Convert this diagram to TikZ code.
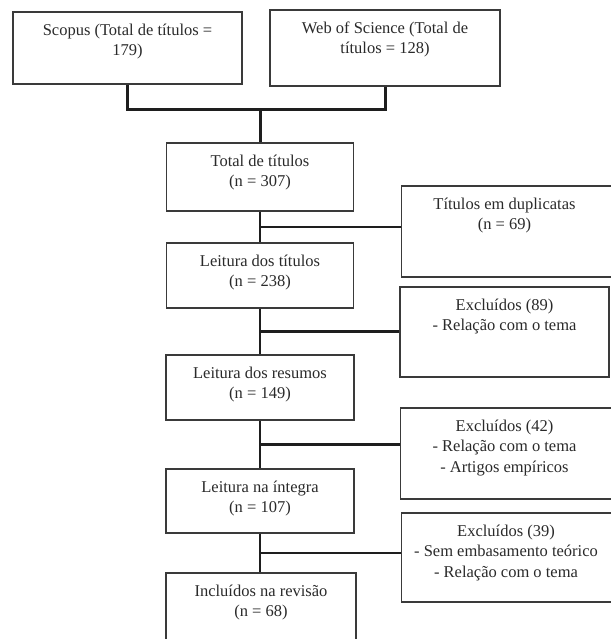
\documentclass[tikz,border=0pt]{standalone}
\usepackage{fontspec}
\setmainfont{Liberation Serif}
\usepackage{xcolor}
\usetikzlibrary{calc,positioning}
\definecolor{BoxLine}{HTML}{3A3A3A}
\definecolor{FlowLine}{HTML}{1E1E1E}
\definecolor{BoxText}{HTML}{2A2A2A}
\tikzset{
  prbox/.style 2 args={draw=BoxLine, line width=1.2pt, fill=white, minimum width=#1, minimum height=#2, inner sep=0pt},
  prtext/.style={anchor=north, align=center, inner sep=0pt, yshift=-12pt, text=BoxText, font=\fontsize{16.5}{20.5}\selectfont},
  prline/.style={draw=FlowLine, line width=2.3pt},
  prjoin/.style={draw=FlowLine, line width=3pt}
}

\begin{document}
\begin{tikzpicture}[x=1pt, y=-1pt]
  \useasboundingbox[fill=white] (0,0) rectangle (610,639);
  \node[prbox={229pt}{72pt}] (scopus) at (127.5,48) {};
  \node[prbox={230pt}{76pt}] (wos) at (385,48) {};
  \node[prbox={187pt}{68pt}] (total) at (260,177) {};
  \node[prbox={260pt}{91pt}, anchor=west] (dup) at (401,231.5) {};
  \node[prbox={187pt}{65pt}] (titulos) at (260,275.5) {};
  \node[prbox={209pt}{90pt}] (excl89) at (504.5,332) {};
  \node[prbox={188pt}{65pt}] (resumos) at (260,387.5) {};
  \node[prbox={260pt}{91pt}, anchor=west] (excl42) at (400,453.5) {};
  \node[prbox={188pt}{64pt}] (integra) at (260,501) {};
  \node[prbox={260pt}{89pt}, anchor=west] (excl39) at (401,557.5) {};
  \node[prbox={190pt}{80pt}] (incluidos) at (261,613) {};

  \node[prtext] (scopustxt) at (scopus.north) {Scopus (Total de títulos =\\179)};
  \node[prtext] (wostxt) at (wos.north) {Web of Science (Total de\\títulos = 128)};
  \node[prtext] (totaltxt) at (total.north) {Total de títulos\\(n = 307)};
  \node[prtext] (duptxt) at (dup.north -| excl89.north) {Títulos em duplicatas\\(n = 69)};
  \node[prtext] (titulostxt) at (titulos.north) {Leitura dos títulos\\(n = 238)};
  \node[prtext] (excl89txt) at (excl89.north) {Excluídos (89)\\- Relação com o tema};
  \node[prtext] (resumostxt) at (resumos.north) {Leitura dos resumos\\(n = 149)};
  \node[prtext] (excl42txt) at (excl42.north -| excl89.north) {Excluídos (42)\\- Relação com o tema\\- Artigos empíricos};
  \node[prtext] (integratxt) at (integra.north) {Leitura na íntegra\\(n = 107)};
  \node[prtext, xshift=1.5pt] (excl39txt) at (excl39.north -| excl89.north) {Excluídos (39)\\- Sem embasamento teórico\\- Relação com o tema};
  \node[prtext] (incluidostxt) at (incluidos.north) {Incluídos na revisão\\(n = 68)};

  \coordinate (join) at (260,110);
  \draw[prjoin] (scopus.south) |- (join) -| (wos.south);
  \draw[prjoin] (join) -- (total.north);

  \draw[prline] (total.south) -- (titulos.north);
  \draw[prline] (titulos.south) -- (resumos.north);
  \draw[prline] (resumos.south) -- (integra.north);
  \draw[prline] (integra.south) -- (incluidos.north -| integra.south);

  \coordinate (cut1) at ($(total.south)!0.5!(titulos.north)$);
  \coordinate (cut2) at ($(titulos.south)!0.5!(resumos.north)$);
  \coordinate (cut3) at ($(resumos.south)!0.5!(integra.north)$);
  \coordinate (cut4) at ($(integra.south)!0.5!(incluidos.north)$);
  \draw[prline] (cut1) -- (cut1 -| dup.west);
  \draw[prline] (cut2) -- (cut2 -| excl89.west);
  \draw[prline] (cut3) -- (cut3 -| excl42.west);
  \draw[prline] (cut4) -- (cut4 -| excl39.west);
\end{tikzpicture}
\end{document}
